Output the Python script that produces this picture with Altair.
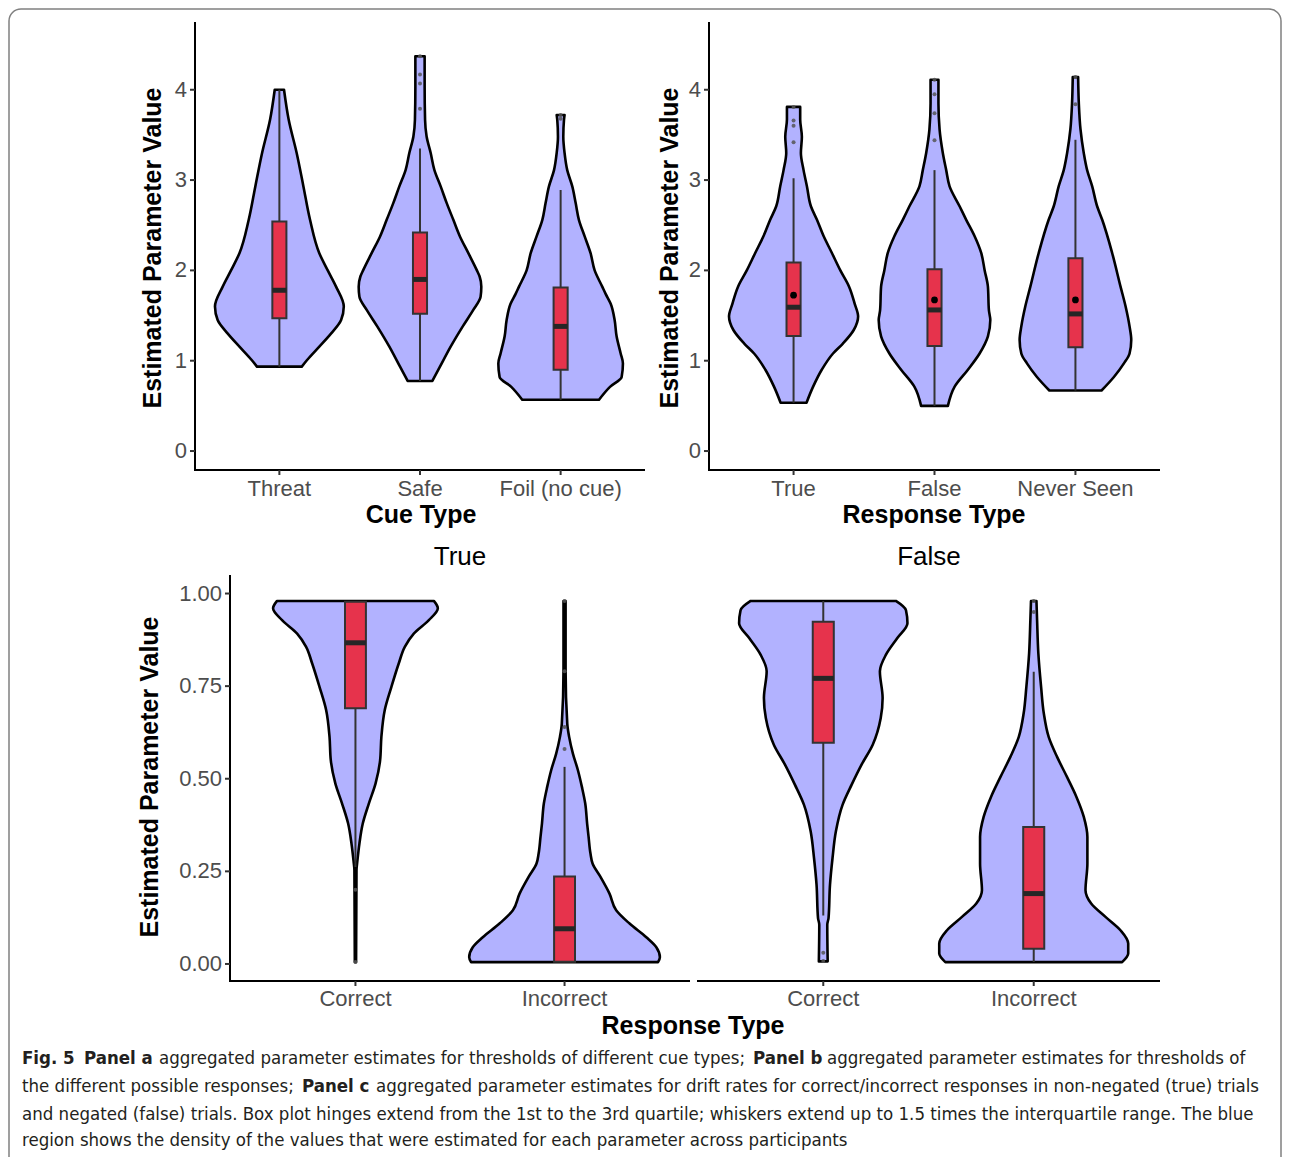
import altair as alt
import pandas as pd

FONT = "Liberation Sans"
CAP_FONT = "Liberation Sans Narrow, DejaVu Sans Condensed, Liberation Sans"

# ---------------- Panel a : thresholds by cue type ----------------
A_CATS = ["Threat", "Safe", "Foil (no cue)"]
A_THREAT_V = [0.934, 1.008, 1.156, 1.30, 1.45, 1.60, 1.82, 2.0, 2.19, 2.56, 2.93, 3.30, 3.67, 4.0]
A_THREAT_W = [0.159, 0.197, 0.284, 0.367, 0.439, 0.458, 0.403, 0.344, 0.284, 0.218, 0.171, 0.123, 0.066, 0.033]
A_SAFE_V = [0.776, 0.934, 1.156, 1.378, 1.563, 1.71, 1.82, 1.932, 2.006, 2.191, 2.376, 2.56, 2.745, 2.93,
            3.114, 3.30, 3.483, 3.668, 4.04, 4.37]
A_SAFE_W = [0.088, 0.142, 0.218, 0.303, 0.379, 0.431, 0.436, 0.424, 0.403, 0.344, 0.284, 0.237, 0.19, 0.147,
            0.102, 0.076, 0.047, 0.036, 0.033, 0.033]
A_FOIL_V = [0.567, 0.71, 0.82, 0.97, 1.08, 1.27, 1.45, 1.63, 1.74, 1.82, 2.0, 2.19, 2.376, 2.56, 2.745,
            2.93, 3.11, 3.30, 3.48, 3.668, 3.72]
A_FOIL_W = [0.273, 0.351, 0.434, 0.443, 0.427, 0.398, 0.384, 0.356, 0.32, 0.296, 0.242, 0.213, 0.171, 0.13,
            0.107, 0.083, 0.047, 0.028, 0.019, 0.024, 0.028]
A_LO = [0.934, 0.776, 0.567]
A_Q1 = [1.47, 1.52, 0.90]
A_MED = [1.78, 1.90, 1.38]
A_Q3 = [2.54, 2.42, 1.81]
A_HI = [4.0, 3.35, 2.89]
A_OUT_CAT = ["Safe", "Safe", "Safe", "Safe", "Foil (no cue)", "Foil (no cue)"]
A_OUT_VAL = [4.37, 4.17, 4.07, 3.79, 3.72, 3.68]

# ---------------- Panel b : thresholds by response ----------------
B_CATS = ["True", "False", "Never Seen"]
B_TRUE_V = [0.535, 0.71, 0.90, 1.08, 1.19, 1.34, 1.49, 1.63, 1.82, 2.0, 2.19, 2.38, 2.56, 2.71, 2.93,
            3.11, 3.30, 3.48, 3.67, 3.81]
B_TRUE_W = [0.092, 0.138, 0.2, 0.28, 0.35, 0.427, 0.458, 0.434, 0.394, 0.332, 0.273, 0.213, 0.166, 0.123,
            0.095, 0.071, 0.052, 0.059, 0.047, 0.047]
B_FALSE_V = [0.50, 0.71, 0.90, 1.08, 1.27, 1.45, 1.56, 1.82, 2.0, 2.19, 2.38, 2.56, 2.71, 2.93, 3.11,
             3.30, 3.56, 3.85, 4.11]
B_FALSE_W = [0.095, 0.142, 0.237, 0.32, 0.379, 0.396, 0.386, 0.379, 0.356, 0.332, 0.284, 0.225, 0.178,
             0.107, 0.083, 0.059, 0.036, 0.028, 0.028]
B_NEVER_V = [0.67, 0.82, 0.97, 1.08, 1.23, 1.38, 1.60, 1.82, 2.19, 2.56, 2.71, 2.93, 3.11, 3.30, 3.56,
             3.85, 4.14]
B_NEVER_W = [0.185, 0.273, 0.344, 0.384, 0.396, 0.384, 0.356, 0.32, 0.261, 0.19, 0.154, 0.119, 0.083,
             0.059, 0.036, 0.024, 0.019]
B_LO = [0.535, 0.50, 0.67]
B_Q1 = [1.274, 1.163, 1.149]
B_MED = [1.592, 1.562, 1.518]
B_Q3 = [2.087, 2.013, 2.135]
B_HI = [3.02, 3.11, 3.446]
B_MEAN = [1.725, 1.673, 1.673]
B_OUT_CAT = ["True"] * 4 + ["False"] * 4 + ["Never Seen"] * 2
B_OUT_VAL = [3.81, 3.66, 3.60, 3.42, 4.11, 3.95, 3.74, 3.44, 4.14, 3.84]

# ---------------- Panel c : drift rates ----------------
C_CATS = ["Correct", "Incorrect"]
C_T_COR_V = [0.005, 0.253, 0.28, 0.325, 0.379, 0.433, 0.487, 0.55, 0.613, 0.685, 0.748, 0.811, 0.856,
             0.892, 0.928, 0.96, 0.98]
C_T_COR_W = [0.003, 0.005, 0.0096, 0.019, 0.035, 0.064, 0.096, 0.118, 0.124, 0.140, 0.172, 0.207, 0.236,
             0.279, 0.351, 0.394, 0.375]
C_T_INC_V = [0.005, 0.018, 0.045, 0.072, 0.109, 0.145, 0.19, 0.235, 0.271, 0.298, 0.343, 0.379, 0.433,
             0.478, 0.523, 0.568, 0.613, 0.649, 0.793, 0.98]
C_T_INC_W = [0.447, 0.456, 0.439, 0.391, 0.311, 0.247, 0.215, 0.172, 0.134, 0.124, 0.115, 0.108, 0.099,
             0.083, 0.064, 0.04, 0.022, 0.013, 0.005, 0.005]
C_F_COR_V = [0.007, 0.106, 0.124, 0.214, 0.286, 0.358, 0.43, 0.484, 0.538, 0.592, 0.664, 0.718, 0.79,
             0.835, 0.88, 0.92, 0.955, 0.98]
C_F_COR_W = [0.021, 0.019, 0.025, 0.032, 0.044, 0.06, 0.092, 0.135, 0.182, 0.235, 0.273, 0.282, 0.269,
             0.298, 0.352, 0.4, 0.393, 0.345]
C_F_INC_V = [0.005, 0.028, 0.055, 0.091, 0.127, 0.163, 0.199, 0.271, 0.343, 0.397, 0.451, 0.505, 0.559,
             0.613, 0.676, 0.748, 0.838, 0.928, 0.98]
C_F_INC_W = [0.42, 0.449, 0.449, 0.412, 0.341, 0.273, 0.246, 0.255, 0.255, 0.238, 0.203, 0.158, 0.111,
             0.071, 0.048, 0.035, 0.022, 0.016, 0.013]
C_T_LO = [0.262, 0.005]
C_T_Q1 = [0.69, 0.006]
C_T_MED = [0.867, 0.095]
C_T_Q3 = [0.978, 0.236]
C_T_HI = [0.98, 0.532]
C_T_OUT_CAT = ["Correct", "Correct", "Incorrect", "Incorrect", "Incorrect", "Incorrect"]
C_T_OUT_VAL = [0.20, 0.005, 0.98, 0.79, 0.64, 0.58]
C_F_LO = [0.131, 0.005]
C_F_Q1 = [0.597, 0.041]
C_F_MED = [0.771, 0.19]
C_F_Q3 = [0.924, 0.37]
C_F_HI = [0.98, 0.789]
C_F_OUT_CAT = ["Correct", "Correct", "Incorrect", "Incorrect"]
C_F_OUT_VAL = [0.03, 0.008, 0.98, 0.95]

Y_AB_TICKS = [0, 1, 2, 3, 4]
Y_C_TICKS = [0, 0.25, 0.5, 0.75, 1.0]

CAPTION = [
    # (text, bold, page_x, page_y)
    ("Fig. 5", True, 22, 1058),
    ("Panel a", True, 84, 1058),
    ("aggregated parameter estimates for thresholds of different cue types;", False, 159, 1058),
    ("Panel b", True, 753, 1058),
    ("aggregated parameter estimates for thresholds of", False, 827, 1058),
    ("the different possible responses;", False, 22, 1086),
    ("Panel c", True, 302, 1086),
    ("aggregated parameter estimates for drift rates for correct/incorrect responses in non-negated (true) trials",
     False, 376, 1086),
    ("and negated (false) trials. Box plot hinges extend from the 1st to the 3rd quartile; whiskers extend up to "
     "1.5 times the interquartile range. The blue", False, 22, 1114),
    ("region shows the density of the values that were estimated for each parameter across participants",
     False, 22, 1140),
]

VIOLIN_FILL = "#B2B2FF"
BOX_FILL = "#E6334C"
DARK = "#333333"
YT = "Estimated Parameter Value"

# page-pixel layout of each panel's plotting area
LAYOUT = {
    "a": dict(x0=195, x1=645, ybot=470, ytop=22, ydom=[-0.21, 4.75], xlab=489),
    "b": dict(x0=709, x1=1160, ybot=470, ytop=22, ydom=[-0.21, 4.75], xlab=489),
    "ct": dict(x0=230, x1=690, ybot=981, ytop=575, ydom=[-0.046, 1.05], xlab=999),
    "cf": dict(x0=697, x1=1160, ybot=981, ytop=575, ydom=[-0.046, 1.05], xlab=999),
}


def P(v):
    # page pixel -> chart pixel (page margin is 8px)
    return v - 8


one = pd.DataFrame({"k": [0]})


def panel_layers(spec, cats, vlist, wlist, lo, q1, med, q3, hi, out_cat, out_val,
                 yticks, yfmt, show_y, mean=None):
    n = len(cats)
    pos_of = {c: i + 1 for i, c in enumerate(cats)}
    xs = alt.Scale(domain=[0.4, n + 0.6], range=[P(spec["x0"]), P(spec["x1"])], nice=False, zero=False)
    ys = alt.Scale(domain=spec["ydom"], range=[P(spec["ybot"]), P(spec["ytop"])], nice=False, zero=False)

    def X(f):
        return alt.X(f, type="quantitative", scale=xs, axis=None)

    def Y(f):
        return alt.Y(f, type="quantitative", scale=ys, axis=None)

    vrows = []
    for i, (vs, ws) in enumerate(zip(vlist, wlist)):
        for v, hw in zip(vs, ws):
            vrows.append({"cat": cats[i], "pos": i + 1, "value": v, "half": hw})
    vdf = pd.DataFrame(vrows)
    bdf = pd.DataFrame({"cat": cats, "pos": list(range(1, n + 1)), "lo": lo, "q1": q1,
                        "med": med, "q3": q3, "hi": hi})
    if mean is not None:
        bdf["mean"] = mean
    odf = pd.DataFrame({"cat": out_cat, "value": out_val})
    odf["pos"] = odf["cat"].map(pos_of)

    layers = []
    layers.append(alt.Chart(vdf).transform_calculate(
        xl="datum.pos - datum.half", xr="datum.pos + datum.half"
    ).mark_area(orient="horizontal", interpolate="monotone", fill=VIOLIN_FILL,
                stroke="black", strokeWidth=2.6, strokeJoin="round").encode(
        x=X("xl"), x2="xr:Q", y=Y("value"), detail="cat:N"))
    layers.append(alt.Chart(bdf).mark_rule(color=DARK, strokeWidth=2).encode(
        x=X("pos"), y=Y("lo"), y2="hi:Q"))
    layers.append(alt.Chart(bdf).transform_calculate(
        bl="datum.pos - 0.05", br="datum.pos + 0.05"
    ).mark_rect(fill=BOX_FILL, stroke=DARK, strokeWidth=2).encode(
        x=X("bl"), x2="br:Q", y=Y("q1"), y2="q3:Q"))
    layers.append(alt.Chart(bdf).transform_calculate(
        bl="datum.pos - 0.05", br="datum.pos + 0.05"
    ).mark_rule(color="#262626", strokeWidth=5).encode(
        x=X("bl"), x2="br:Q", y=Y("med")))
    layers.append(alt.Chart(odf).mark_circle(color="#555555", size=16, opacity=0.85).encode(
        x=X("pos"), y=Y("value")))
    if mean is not None:
        layers.append(alt.Chart(bdf).mark_circle(color="black", size=45, opacity=1).encode(
            x=X("pos"), y=Y("mean")))

    # ---- hand-drawn axes ----
    ax_x, ax_y = P(spec["x0"]), P(spec["ybot"])
    layers.append(alt.Chart(one).mark_rule(color="black", strokeWidth=2).encode(
        x=alt.value(ax_x - 1 if show_y else ax_x), x2=alt.value(P(spec["x1"])), y=alt.value(ax_y)))
    xt = pd.DataFrame({"pos": list(range(1, n + 1)), "cat": cats})
    layers.append(alt.Chart(xt).mark_rule(color=DARK, strokeWidth=2).encode(
        x=X("pos"), y=alt.value(ax_y), y2=alt.value(ax_y + 5)))
    layers.append(alt.Chart(xt).mark_text(font=FONT, fontSize=22, color="#4D4D4D",
                                          align="center", baseline="middle").encode(
        x=X("pos"), y=alt.value(P(spec["xlab"])), text="cat:N"))
    if show_y:
        layers.append(alt.Chart(one).mark_rule(color="black", strokeWidth=2).encode(
            x=alt.value(ax_x), y=alt.value(P(spec["ytop"])), y2=alt.value(ax_y + 1)))
        yt = pd.DataFrame({"value": yticks, "label": [format(v, yfmt) for v in yticks]})
        layers.append(alt.Chart(yt).mark_rule(color=DARK, strokeWidth=2).encode(
            x=alt.value(ax_x - 5), x2=alt.value(ax_x), y=Y("value")))
        layers.append(alt.Chart(yt).mark_text(font=FONT, fontSize=22, color="#4D4D4D",
                                              align="right", baseline="middle").encode(
            x=alt.value(ax_x - 8), y=Y("value"), text="label:N"))
    return layers


def text_layer(s, px, py, size, weight="normal", font=FONT, angle=0, align="center", color="black"):
    return alt.Chart(one).mark_text(font=font, fontSize=size, fontWeight=weight, angle=angle,
                                    align=align, baseline="middle", color=color).encode(
        x=alt.value(P(px)), y=alt.value(P(py)), text=alt.value(s))


layers = []
layers += panel_layers(LAYOUT["a"], A_CATS, [A_THREAT_V, A_SAFE_V, A_FOIL_V],
                       [A_THREAT_W, A_SAFE_W, A_FOIL_W], A_LO, A_Q1, A_MED, A_Q3, A_HI,
                       A_OUT_CAT, A_OUT_VAL, Y_AB_TICKS, "d", True)
layers += panel_layers(LAYOUT["b"], B_CATS, [B_TRUE_V, B_FALSE_V, B_NEVER_V],
                       [B_TRUE_W, B_FALSE_W, B_NEVER_W], B_LO, B_Q1, B_MED, B_Q3, B_HI,
                       B_OUT_CAT, B_OUT_VAL, Y_AB_TICKS, "d", True, mean=B_MEAN)
layers += panel_layers(LAYOUT["ct"], C_CATS, [C_T_COR_V, C_T_INC_V], [C_T_COR_W, C_T_INC_W],
                       C_T_LO, C_T_Q1, C_T_MED, C_T_Q3, C_T_HI, C_T_OUT_CAT, C_T_OUT_VAL,
                       Y_C_TICKS, ".2f", True)
layers += panel_layers(LAYOUT["cf"], C_CATS, [C_F_COR_V, C_F_INC_V], [C_F_COR_W, C_F_INC_W],
                       C_F_LO, C_F_Q1, C_F_MED, C_F_Q3, C_F_HI, C_F_OUT_CAT, C_F_OUT_VAL,
                       Y_C_TICKS, ".2f", False)

# titles
layers.append(text_layer(YT, 153, 248, 25, weight="bold", angle=270))
layers.append(text_layer(YT, 670, 248, 25, weight="bold", angle=270))
layers.append(text_layer(YT, 150, 777, 25, weight="bold", angle=270))
layers.append(text_layer("Cue Type", 421, 515, 25, weight="bold"))
layers.append(text_layer("Response Type", 934, 515, 25, weight="bold"))
layers.append(text_layer("Response Type", 693, 1026, 25, weight="bold"))
layers.append(text_layer("True", 460, 557, 26))
layers.append(text_layer("False", 929, 557, 26))

# caption
for s, bold, px, py in CAPTION:
    layers.append(text_layer(s, px, py, 18.5, weight="bold" if bold else "normal",
                             font=CAP_FONT, align="left", color="#231F20"))

# figure frame
layers.append(alt.Chart(one).mark_rect(
    cornerRadius=12, fill="white", fillOpacity=0, stroke="#808080", strokeWidth=1.5).encode(
    x=alt.value(P(9)), x2=alt.value(P(1281)), y=alt.value(P(9)), y2=alt.value(P(1190))))

chart = alt.layer(*layers).resolve_scale(
    x="independent", y="independent"
).properties(
    width=1274, height=1149, padding=0, autosize="none", background="white"
).configure_view(strokeWidth=0)

chart.save("out.html", embed_options={"renderer": "svg", "actions": False})
